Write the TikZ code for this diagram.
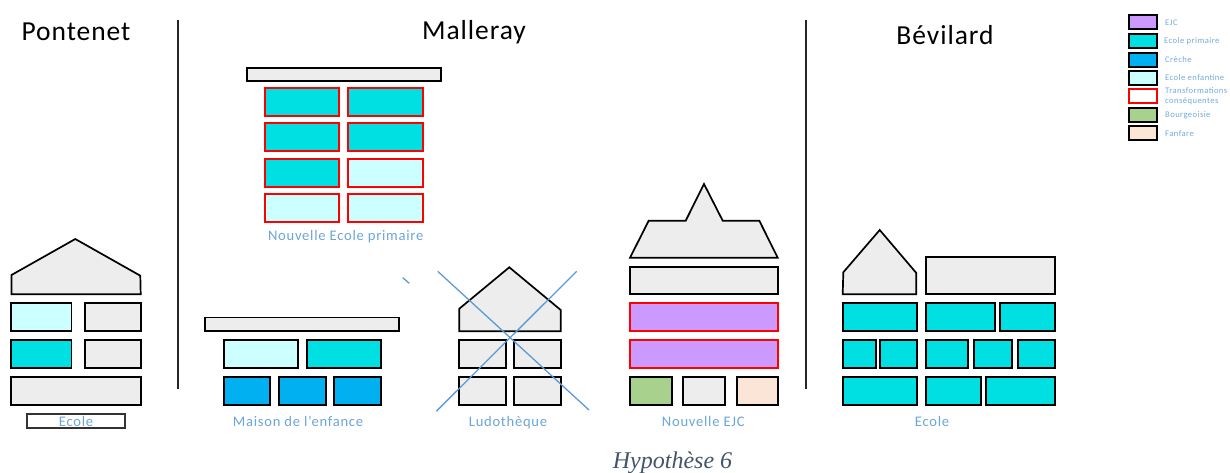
\documentclass[tikz,border=0pt]{standalone}
\usepackage{fontspec}
\setmainfont{Carlito}
\newfontfamily\lblfont[LetterSpace=5]{Carlito}
\newfontfamily\ttlfont[LetterSpace=3.5]{Carlito}
\newfontfamily\capfont{Liberation Serif}
\definecolor{wall}{HTML}{EDEDED}
\definecolor{cprim}{HTML}{00E0E2}
\definecolor{ccre}{HTML}{00B0F0}
\definecolor{cenf}{HTML}{CCFFFF}
\definecolor{cejc}{HTML}{CC99FF}
\definecolor{cbou}{HTML}{A9D18E}
\definecolor{cfan}{HTML}{FBE5D6}
\definecolor{lbl}{HTML}{5B9BD5}
\definecolor{capc}{HTML}{44546A}
\tikzset{
  room/.style={draw=black,line width=1.7pt,line join=miter},
  grayroom/.style={room,fill=wall},
  prim/.style={room,fill=cprim},
  cre/.style={room,fill=ccre},
  enf/.style={room,fill=cenf},
  ejcroom/.style={room,fill=cejc},
  bou/.style={room,fill=cbou},
  fan/.style={room,fill=cfan},
  redp/.style={room,draw=red,fill=cprim},
  rede/.style={room,draw=red,fill=cenf},
  redj/.style={room,draw=red,fill=cejc},
  redw/.style={room,draw=red,fill=white},
  legroom/.style={line width=2pt},
  sep/.style={draw=black!85,line width=1.2pt},
  title/.style={font=\ttlfont\fontsize{27.5}{29}\selectfont,text=black,inner sep=0pt,anchor=base},
  label/.style={font=\lblfont\fontsize{14.6}{16}\selectfont,text=lbl!90,inner sep=0pt,anchor=base},
  legtext/.style={font=\lblfont\fontsize{8.6}{9.8}\selectfont,text=lbl!85,inner sep=0pt,anchor=west,align=left},
  cross/.style={draw=lbl,line width=1.3pt}
}
\newcommand{\bx}[5]{\draw[#1] (#2,#3) rectangle (#4,#5);}
\begin{document}
\begin{tikzpicture}[x=1pt,y=-1pt]
\useasboundingbox (0,0) rectangle (1230,473);
% separators
\draw[sep] (178,20) -- (178,389);
\draw[sep] (806,20) -- (806,389);
% titles
\node[title] (tpon) at (76,40.7) {Pontenet};
\node[title] (tmal) at (474,40) {Malleray};
\node[title] (tbev) at (945,45) {Bévilard};
% Pontenet
\draw[grayroom] (11.5,275) -- (75.3,239) -- (140.3,275.7) -- (140.7,294.3) -- (11.5,294.3) -- cycle;
\bx{enf}{11}{303.3}{71.5}{331.3}
\bx{grayroom}{85}{303.3}{140.7}{331.3}
\bx{prim}{11}{340.3}{71.5}{368.3}
\bx{grayroom}{85}{340.3}{140.7}{368.3}
\bx{grayroom}{11}{377.3}{140.7}{405.3}
\draw[draw=black!80,line width=1.7pt,fill=white] (26.7,414.3) rectangle (124.7,428.3);
\node[label] (lpon) at (76,426.7) {Ecole};
% Maison de l'enfance
\bx{grayroom}{205}{317.5}{399.3}{331.3}
\bx{enf}{223.7}{340.3}{298}{368.3}
\bx{prim}{306.7}{340.3}{381.3}{368.3}
\bx{cre}{223.7}{377.3}{270.3}{405.3}
\bx{cre}{279}{377.3}{325.7}{405.3}
\bx{cre}{334.3}{377.3}{381.3}{405.3}
\node[label] (lmai) at (298,426.7) {Maison de l’enfance};
% Nouvelle Ecole primaire
\bx{grayroom}{246.7}{67.7}{441}{81.3}
\bx{redp}{265}{87.7}{339.3}{115.7}
\bx{redp}{348.3}{87.7}{422.7}{115.7}
\bx{redp}{265}{123.3}{339.3}{151.3}
\bx{redp}{348.3}{123.3}{422.7}{151.3}
\bx{redp}{265}{158.7}{339.3}{186.7}
\bx{rede}{348.3}{158.7}{422.7}{186.7}
\bx{rede}{265}{194}{339.3}{221.7}
\bx{rede}{348.3}{194}{422.7}{221.7}
\node[label] (lnep) at (345.7,240) {Nouvelle Ecole primaire};
% tick
\draw[cross] (402.7,277.7) -- (409.3,283.3);
% Ludotheque
\draw[grayroom] (459.3,308.7) -- (509.3,267.3) -- (560.7,310) -- (560.7,331.3) -- (459.3,331.3) -- cycle;
\bx{grayroom}{459}{340.3}{505.7}{368.3}
\bx{grayroom}{514.3}{340.3}{560.7}{368.3}
\bx{grayroom}{459}{377.3}{505.7}{405.3}
\bx{grayroom}{514.3}{377.3}{560.7}{405.3}
\draw[cross] (437.7,271.3) -- (589,410);
\draw[cross] (576.7,271.3) -- (436.3,411.3);
\node[label] (llud) at (508,426.7) {Ludothèque};
% Nouvelle EJC
\draw[grayroom] (630,257.7) -- (648.7,220.7) -- (685.7,220.7) -- (704,184) -- (722.7,220.7) -- (759.3,220.7) -- (777.7,257.7) -- cycle;
\bx{grayroom}{630}{267}{778.3}{294.3}
\bx{redj}{630}{303.3}{778.3}{331.3}
\bx{redj}{630}{340.3}{778.3}{368.3}
\bx{bou}{630}{377.3}{672.3}{405.3}
\bx{grayroom}{683.3}{377.3}{725.3}{405.3}
\bx{fan}{736.7}{377.3}{778.3}{405.3}
\node[label] (lejc) at (703.3,426.7) {Nouvelle EJC};
% Bevilard
\draw[grayroom] (843.3,272.3) -- (879.7,230) -- (916.3,273) -- (916.3,294.3) -- (842.7,294.3) -- cycle;
\bx{grayroom}{925.7}{257.3}{1055.3}{294.3}
\bx{prim}{842.7}{303.3}{916.7}{331.3}
\bx{prim}{925.7}{303.3}{995.3}{331.3}
\bx{prim}{999.7}{303.3}{1055.3}{331.3}
\bx{prim}{842.7}{340.3}{875.7}{368.3}
\bx{prim}{879.7}{340.3}{916.7}{368.3}
\bx{prim}{925.7}{340.3}{967.7}{368.3}
\bx{prim}{974.3}{340.3}{1012}{368.3}
\bx{prim}{1018.3}{340.3}{1055.3}{368.3}
\bx{prim}{842.7}{377.3}{916.7}{405.3}
\bx{prim}{925.7}{377.3}{981.3}{405.3}
\bx{prim}{986}{377.3}{1055.3}{405.3}
\node[label] (lbev) at (932,426.7) {Ecole};
% caption
\node[font=\capfont\itshape\fontsize{24}{26}\selectfont,text=capc,inner sep=0pt,anchor=base] (hyp) at (672.5,468) {Hypothèse 6};
% legend
\bx{ejcroom,legroom}{1129}{15.3}{1157}{29.3}
\bx{prim,legroom}{1129}{34}{1157}{47.7}
\bx{cre,legroom}{1129}{52.7}{1157}{66.7}
\bx{enf,legroom}{1129}{71.3}{1157}{85}
\bx{redw,legroom}{1129}{89.3}{1157}{103.3}
\bx{bou,legroom}{1129}{107.7}{1157}{121.7}
\bx{fan,legroom}{1129}{126.3}{1157}{140.3}
\node[legtext] (l1) at (1165,22.5) {EJC};
\node[legtext] (l2) at (1164,41) {Ecole primaire};
\node[legtext] (l3) at (1165,60) {Crèche};
\node[legtext] (l4) at (1165,78) {Ecole enfantine};
\node[legtext] (l5) at (1165,96.5) {Transformations\\conséquentes};
\node[legtext] (l6) at (1165,115) {Bourgeoisie};
\node[legtext] (l7) at (1165,134) {Fanfare};
\end{tikzpicture}
\end{document}
